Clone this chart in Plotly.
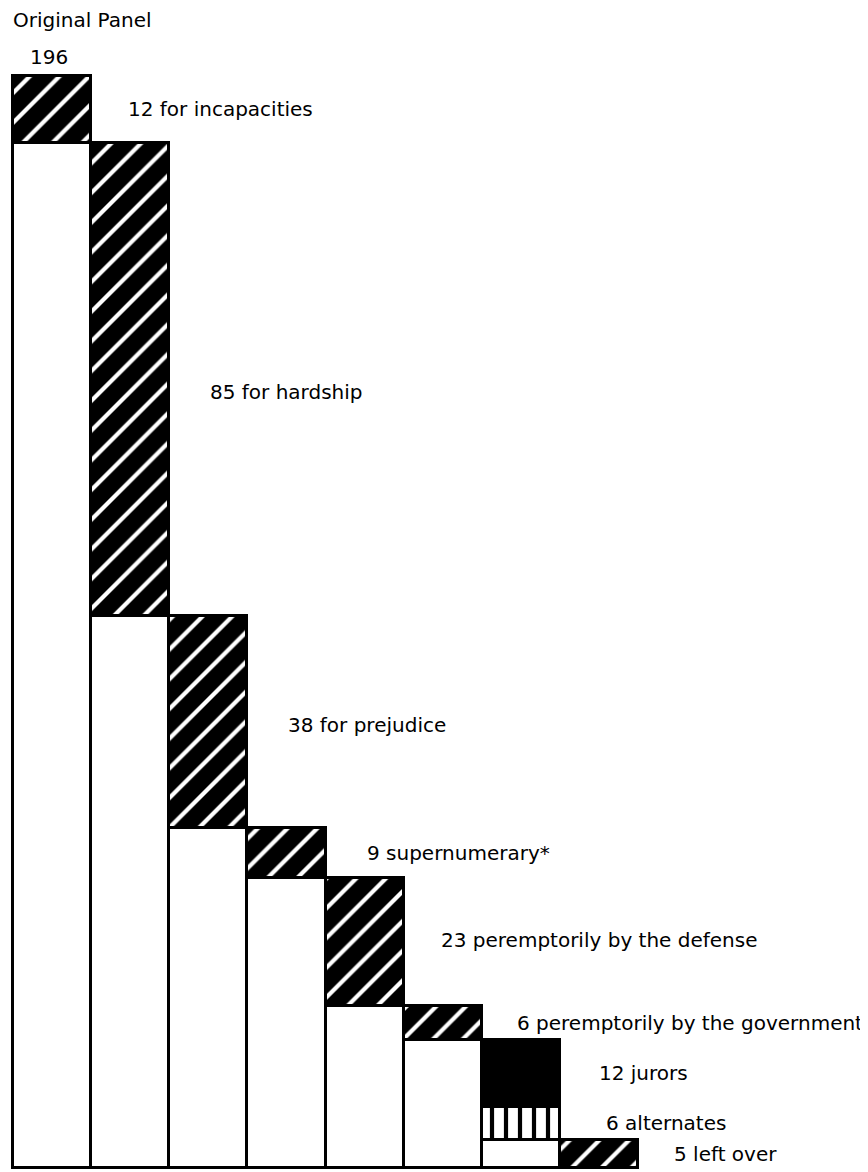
import plotly.graph_objects as go

# ---------------- data ----------------
panel_total = 196
panel_title = "Original Panel"
removed_counts = [12, 85, 38, 9, 23, 6]
removed_labels = [
    "12 for incapacities",
    "85 for hardship",
    "38 for prejudice",
    "9 supernumerary*",
    "23 peremptorily by the defense",
    "6 peremptorily by the government",
]
jurors = 12
alternates = 6
left_over = 5
final_labels = ["12 jurors", "6 alternates", "5 left over"]

# ---------------- derived ----------------
remaining = [panel_total]
for c in removed_counts:
    remaining.append(remaining[-1] - c)   # 196,184,99,61,52,29,23

BLACK = "#000000"
WHITE = "#ffffff"
FONT = dict(family="DejaVu Sans, sans-serif", size=20, color=BLACK)
LINE = dict(color=BLACK, width=3)

diag = dict(shape="/", bgcolor=BLACK, fgcolor=WHITE, fgopacity=1, size=21, solidity=0.2)
vert = dict(shape="|", bgcolor=WHITE, fgcolor=BLACK, fgopacity=1, size=14, solidity=0.3)

fig = go.Figure()

def seg(x, base, height, color=WHITE, pattern=None):
    m = dict(color=color, line=LINE)
    if pattern is not None:
        m["pattern"] = pattern
    fig.add_trace(go.Bar(x=[x], y=[height], base=[base], width=1, marker=m,
                         showlegend=False, hoverinfo="skip"))

# bars for successive removals
for i, c in enumerate(removed_counts):
    seg(i + 0.5, 0, remaining[i + 1])
    seg(i + 0.5, remaining[i + 1], c, BLACK, diag)

# final bar: left over (white), alternates, jurors
n = len(removed_counts)
seg(n + 0.5, 0, left_over)
seg(n + 0.5, left_over, alternates, WHITE, vert)
seg(n + 0.5, left_over + alternates, jurors, BLACK)
# left over removed
seg(n + 1.5, 0, left_over, BLACK, diag)

# ---------------- annotations ----------------
ann = []
ann.append(dict(x=0, y=panel_total, text=panel_title, xanchor="left", yanchor="middle",
                yshift=56, xshift=-2, showarrow=False, font=FONT))
ann.append(dict(x=0.5, y=panel_total, text=str(panel_total), xanchor="center", yanchor="middle",
                yshift=19, xshift=-3, showarrow=False, font=FONT))
label_dx = [0.45, 0.5, 0.5, 0.51, 0.45, 0.43]
label_dy = [0, -12, -3, 0, 2, 0]
for i, (c, lab) in enumerate(zip(removed_counts, removed_labels)):
    ymid = remaining[i + 1] + c / 2
    ann.append(dict(x=i + 1 + label_dx[i], y=ymid, text=lab, xanchor="left", yanchor="middle",
                    yshift=label_dy[i], showarrow=False, font=FONT))
final_mids = [left_over + alternates + jurors / 2, left_over + alternates / 2, left_over / 2]
final_x = [n + 1.47, n + 1.57, n + 2.44]
for xm, ym, lab in zip(final_x, final_mids, final_labels):
    ann.append(dict(x=xm, y=ym, text=lab, xanchor="left", yanchor="middle",
                    showarrow=False, font=FONT))

ppx = 78.125          # px per bar unit
ppy = 1092 / 196      # px per panel member
fig.update_layout(
    width=860, height=1164,
    margin=dict(l=1, r=0, t=0, b=0),
    paper_bgcolor=WHITE, plot_bgcolor=WHITE,
    barmode="overlay", bargap=0,
    annotations=ann,
    xaxis=dict(range=[-4 / ppx, 855 / ppx], visible=False, fixedrange=True),
    yaxis=dict(range=[-4 / ppy, panel_total + 68 / ppy], visible=False, fixedrange=True),
)

fig.write_html("out.html")
